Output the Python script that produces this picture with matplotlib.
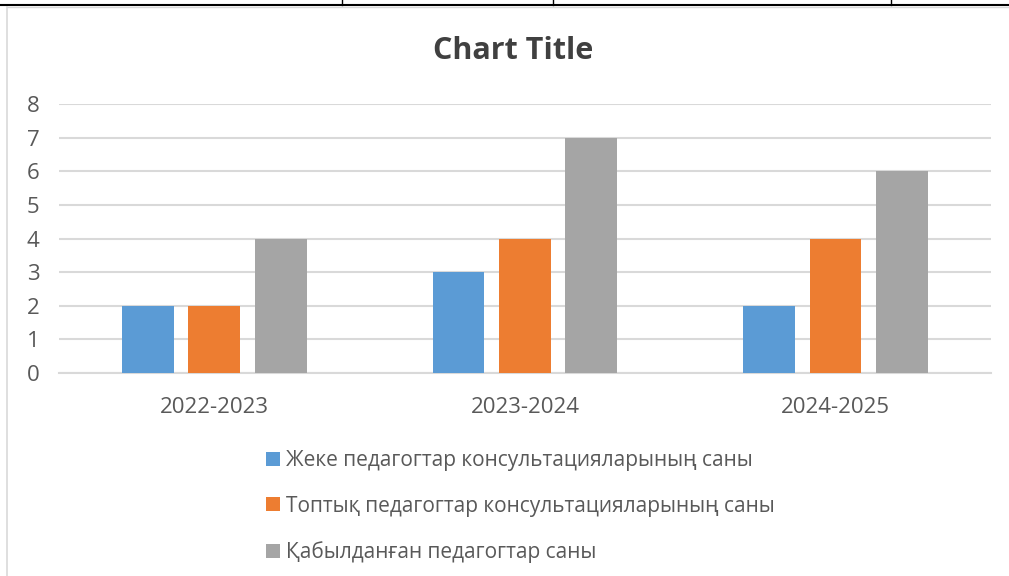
import matplotlib
matplotlib.use('Agg')
import matplotlib.pyplot as plt
from matplotlib.lines import Line2D
import numpy as np

# data
years = ['2022-2023', '2023-2024', '2024-2025']
series_names = ['Жеке педагогтар консультацияларының саны',
                'Топтық педагогтар консультацияларының саны',
                'Қабылданған педагогтар саны']
individual = [2, 3, 2]
group = [2, 4, 4]
accepted = [4, 7, 6]
colors = ['#5b9bd5', '#ed7d31', '#a5a5a5']

plt.rcParams['font.family'] = ['Open Sans', 'DejaVu Sans']
txt = '#595959'

fig = plt.figure(figsize=(10.09, 5.76), dpi=100)
ax = fig.add_axes([0.0585, 0.3524, 0.9235, 0.467])

x = np.arange(len(years))
w = 0.167
step = 0.214
for i, (vals, name) in enumerate(zip([individual, group, accepted], series_names)):
    ax.bar(x + (i - 1) * step, vals, w, color=colors[i], label=name, zorder=3)

ax.set_xlim(-0.5, 2.5)
ax.set_ylim(0, 8)
ax.set_yticks(range(0, 9))
ax.set_xticks(x)
ax.set_xticklabels(years)
ax.yaxis.grid(True, color='#d9d9d9', linewidth=1.5, zorder=0)
for s in ['top', 'right', 'left']:
    ax.spines[s].set_visible(False)
ax.spines['bottom'].set_color('#d9d9d9')
ax.spines['bottom'].set_linewidth(1.5)
ax.tick_params(axis='both', length=0, colors=txt, labelsize=16)
ax.tick_params(axis='y', pad=14)
ax.tick_params(axis='x', pad=17)

fig.text(0.5085, 0.911, 'Chart Title', ha='center', va='center',
         fontsize=22, fontweight='bold', color='#404040')

leg = fig.legend(loc='upper left', bbox_to_anchor=(0.255, 0.233), frameon=False,
                 fontsize=15, handlelength=0.67, handleheight=0.67,
                 handletextpad=0.33, labelspacing=1.18, borderaxespad=0)
for t in leg.get_texts():
    t.set_color(txt)

# page decorations (table border above, chart frame)
fig.add_artist(Line2D([0, 1], [1 - 4.5 / 576] * 2, color='black', linewidth=1.5))
for xp in [342, 553, 891]:
    fig.add_artist(Line2D([xp / 1009] * 2, [1, 1 - 4.5 / 576], color='black', linewidth=1))
fig.add_artist(Line2D([7 / 1009, 1], [1 - 7 / 576] * 2, color='#d9d9d9', linewidth=1))
fig.add_artist(Line2D([7 / 1009] * 2, [0, 1 - 7 / 576], color='#d9d9d9', linewidth=1.2))

fig.savefig('out.png', dpi=100)
